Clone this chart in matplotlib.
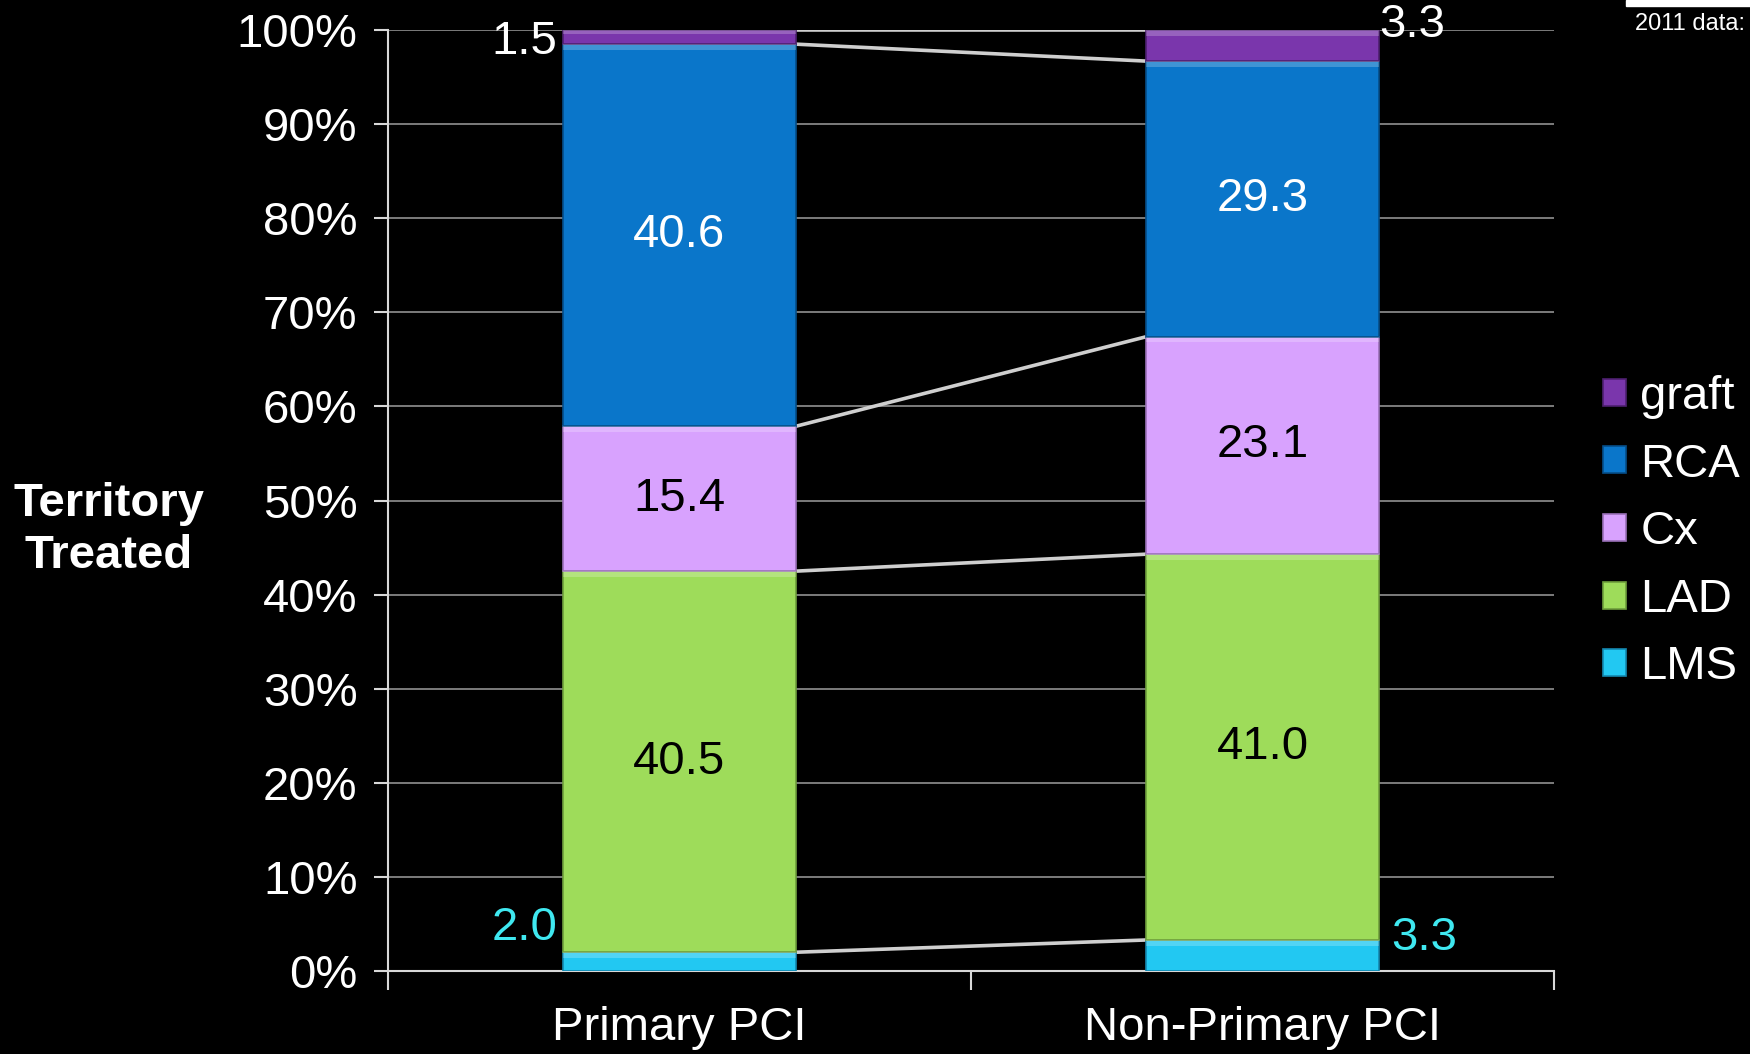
import numpy as np
import matplotlib.pyplot as plt
from matplotlib.patches import Rectangle

plt.rcParams['font.family'] = ['Liberation Sans', 'DejaVu Sans']

categories = ['Primary PCI', 'Non-Primary PCI']
segments = ['LMS', 'LAD', 'Cx', 'RCA', 'graft']
values = {
    'LMS':   [2.0, 3.3],
    'LAD':   [40.5, 41.0],
    'Cx':    [15.4, 23.1],
    'RCA':   [40.6, 29.3],
    'graft': [1.5, 3.3],
}
colors = {
    'LMS':   '#22C8F2',
    'LAD':   '#9EDC5A',
    'Cx':    '#D8A2FE',
    'RCA':   '#0A76CA',
    'graft': '#7A36AC',
}
edges = {
    'LMS':   '#1488B0',
    'LAD':   '#6E9E3C',
    'Cx':    '#9A70B8',
    'RCA':   '#064E88',
    'graft': '#4E2070',
}
text_col = {'LMS': 'black', 'LAD': 'black', 'Cx': 'black', 'RCA': 'white', 'graft': 'white'}

FS = 34

fig = plt.figure(figsize=(17.5, 10.54), dpi=100, facecolor='black')
ax = fig.add_axes([0.2217, 0.0787, 0.6663, 0.8928], facecolor='black')

x = np.arange(len(categories))
width = 0.40
bottom = np.zeros(len(categories))
tops = []
for seg in segments:
    v = np.array(values[seg])
    ax.bar(x, v, width, bottom=bottom, color=colors[seg], edgecolor=edges[seg],
           linewidth=1.2, zorder=3, label=seg)
    # light bevel strip on top of each segment
    for xi, b, h in zip(x, bottom, v):
        sh = min(0.6, h * 0.3)
        ax.add_patch(Rectangle((xi - width / 2, b + h - sh), width, sh,
                               color='white', alpha=0.22, lw=0, zorder=4))
    bottom = bottom + v
    tops.append(bottom.copy())

# series lines between bars
for t in tops:
    ax.plot([x[0] + width / 2, x[1] - width / 2], [t[0], t[1]],
            color='#CFCFCF', lw=2.6, zorder=2, solid_capstyle='butt')

# labels inside big segments
start = np.zeros(len(categories))
for seg in segments:
    v = np.array(values[seg])
    for xi, b, h in zip(x, start, v):
        if h > 10:
            ax.text(xi, b + h / 2, f'{h:.1f}', ha='center', va='center',
                    fontsize=FS, color=text_col[seg], zorder=5)
    start = start + v

# small segments labelled outside
lms = values['LMS']
graft = values['graft']
ax.text(x[0] - width / 2 - 0.01, lms[0] + 2.6, f'{lms[0]:.1f}', ha='right',
        va='center', fontsize=FS, color='#3FE8F0')
ax.text(x[1] + width / 2 + 0.02, lms[1] + 0.2, f'{lms[1]:.1f}', ha='left',
        va='center', fontsize=FS, color='#3FE8F0')
ax.text(x[0] - width / 2 - 0.01, 100 - 1.3, f'{graft[0]:.1f}', ha='right',
        va='center', fontsize=FS, color='white', zorder=6)
ax.text(x[1] + width / 2 + 0.0, 100 + 0.5, f'{graft[1]:.1f}', ha='left',
        va='center', fontsize=FS, color='white', zorder=6, clip_on=False)

ax.set_xlim(-0.5, 1.5)
ax.set_ylim(0, 100)
ax.set_yticks(np.arange(0, 101, 10))
ax.set_yticklabels([f'{t}%' for t in range(0, 101, 10)], fontsize=FS, color='white')
ax.yaxis.grid(True, color='#868686', lw=1.3, zorder=0)
ax.set_axisbelow(True)

ax.set_xticks([-0.5, 0.5, 1.5])
ax.set_xticklabels([])
ax.tick_params(axis='x', length=14, width=1.5, color='#D8D8D8', direction='out')
ax.tick_params(axis='y', length=10, width=1.5, color='#D8D8D8', pad=12)
for xi, c in zip(x, categories):
    ax.text(xi, -6.0, c, ha='center', va='center', fontsize=FS, color='white',
            transform=ax.transData, clip_on=False)

for s in ['top', 'right']:
    ax.spines[s].set_visible(False)
ax.spines['left'].set_color('#D8D8D8')
ax.spines['bottom'].set_color('#D8D8D8')
ax.spines['left'].set_linewidth(1.5)
ax.spines['bottom'].set_linewidth(1.5)

fig.text(0.062, 0.497, 'Territory\nTreated', ha='center', va='center',
         fontsize=FS, fontweight='bold', color='white', linespacing=1.25)

handles, labels = ax.get_legend_handles_labels()
leg = fig.legend(handles[::-1], labels[::-1], loc='center left',
                 bbox_to_anchor=(0.905, 0.495), frameon=False, fontsize=FS,
                 labelcolor='white', handlelength=0.5, handleheight=0.5,
                 handletextpad=0.3, labelspacing=0.5, borderaxespad=0)

fig.text(0.997, 0.977, '2011 data:', ha='right', va='center', fontsize=17, color='white')
fig.patches.append(Rectangle((0.929, 0.994), 0.071, 0.006, transform=fig.transFigure,
                             color='white', figure=fig))

fig.savefig('out.png', dpi=100, facecolor='black')
